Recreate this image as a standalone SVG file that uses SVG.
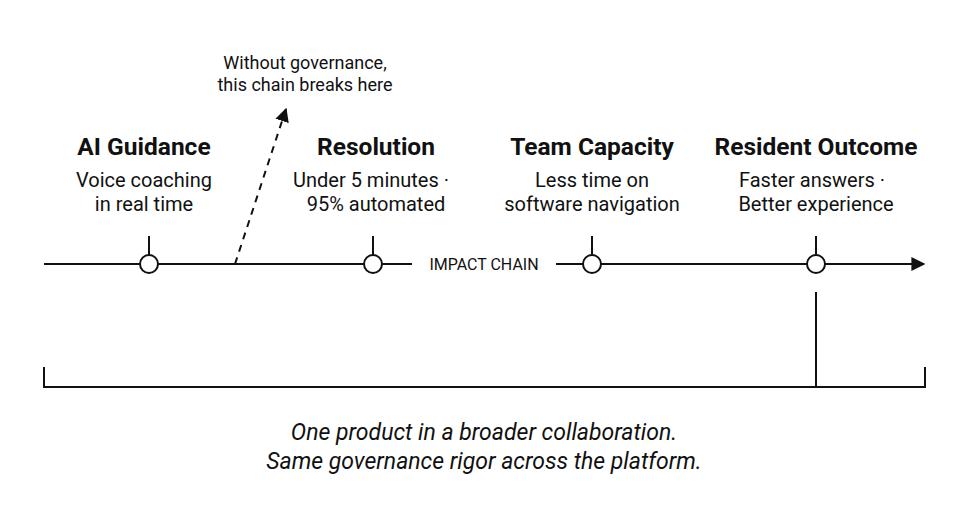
<svg xmlns="http://www.w3.org/2000/svg" width="968" height="528" viewBox="0 0 968 528">
<style>
text{font-family:Roboto,"Liberation Sans",sans-serif;fill:#111;text-anchor:middle}
.t{font-size:24.5px;font-weight:bold}
.s{font-size:20px}
.ln{stroke:#111;stroke-width:2;fill:none}
.c{fill:#fff;stroke:#111;stroke-width:2}
</style>
<defs>
<marker id="a" viewBox="0 0 10 10" refX="9" refY="5" markerWidth="7" markerHeight="7" orient="auto"><path d="M0,0L10,5L0,10z" fill="#111"/></marker>
</defs>
<rect width="968" height="528" fill="#fff"/>
<g id="connectors">
<line class="ln" x1="44" y1="264" x2="412" y2="264"/>
<line class="ln" x1="556" y1="264" x2="924" y2="264" marker-end="url(#a)"/>
<line class="ln" x1="235" y1="264" x2="286" y2="109" stroke-dasharray="7,6" marker-end="url(#a)"/>
<line class="ln" x1="816" y1="292" x2="816" y2="387" stroke-width="1.5"/>
<path class="ln" d="M44,367V387H925V367" stroke-width="1.5"/>
</g>
<g id="annotation"><text style="font-size:18px" x="305" y="69">Without governance,</text><text style="font-size:18px" x="305" y="91">this chain breaks here</text></g>
<text x="484" y="270" style="font-size:16px">IMPACT CHAIN</text>
<g id="n1"><line class="ln" x1="149" y1="236" x2="149" y2="256"/><circle class="c" cx="149" cy="264" r="9"/><text class="t" x="144" y="155">AI Guidance</text><text class="s" x="144" y="187">Voice coaching</text><text class="s" x="144" y="211">in real time</text></g>
<g id="n2"><line class="ln" x1="373" y1="236" x2="373" y2="256"/><circle class="c" cx="373" cy="264" r="9"/><text class="t" x="376" y="155">Resolution</text><text class="s" x="371" y="187">Under 5 minutes ·</text><text class="s" x="376" y="211">95% automated</text></g>
<g id="n3"><line class="ln" x1="592" y1="236" x2="592" y2="256"/><circle class="c" cx="592" cy="264" r="9"/><text class="t" x="592" y="155">Team Capacity</text><text class="s" x="592" y="187">Less time on</text><text class="s" x="592" y="211">software navigation</text></g>
<g id="n4"><line class="ln" x1="816" y1="236" x2="816" y2="256"/><circle class="c" cx="816" cy="264" r="9"/><text class="t" x="816" y="155">Resident Outcome</text><text class="s" x="812" y="187">Faster answers ·</text><text class="s" x="816" y="211">Better experience</text></g>
<g id="footer"><text x="484" y="440" style="font-size:23px;font-style:italic">One product in a broader collaboration.</text><text x="484" y="469" style="font-size:23px;font-style:italic">Same governance rigor across the platform.</text></g>
</svg>
